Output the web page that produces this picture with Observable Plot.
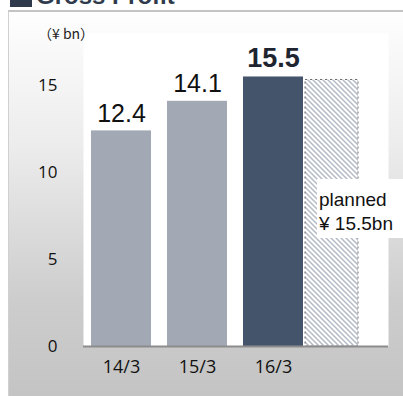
<!DOCTYPE html>
<html>
<head>
<meta charset="utf-8">
<script src="https://cdn.jsdelivr.net/npm/d3@7"></script>
<script src="https://cdn.jsdelivr.net/npm/@observablehq/plot@0.6"></script>
<style>
  html, body { margin: 0; padding: 0; width: 403px; height: 396px; overflow: hidden; background: #fff; }
  #title { position: absolute; left: 10px; top: -18px; height: 26px; display: flex; align-items: flex-end; font-family: "Liberation Sans", Arial, sans-serif; font-weight: bold; font-size: 24px; color: #2f3b4c; line-height: 24px; white-space: nowrap; }
  #title .sq { display: inline-block; width: 22px; height: 22px; background: #2f3b4c; margin-right: 4px; margin-bottom: 1px; }
  #panel { position: absolute; left: 8px; top: 10px; width: 395px; height: 386px; border-top: 2px solid #c4c4c4; border-left: 1px solid #d0d0d0; background: linear-gradient(#fefefe 0%, #ececec 35%, #cdcdcd 75%, #c4c4c4 100%); box-sizing: border-box; }
  #unit { position: absolute; left: 29px; top: 11px; font-family: "Noto Sans CJK JP", sans-serif; font-size: 14px; color: #222; }
  #note { position: absolute; left: 308px; top: 167px; width: 90px; height: 59px; background: #fff; font-family: "Liberation Sans", Arial, sans-serif; font-size: 19px; color: #111; line-height: 24px; padding: 9px 0 0 2px; box-sizing: border-box; white-space: nowrap; }
  #chart { position: absolute; left: 0; top: 0; }
</style>
</head>
<body>
<div id="title"><span class="sq"></span>Gross Profit</div>
<div id="panel">
  <div id="chart"></div>
  <div id="unit">（¥ bn）</div>
  <div id="note">planned<br>¥ 15.5bn</div>
</div>
<script>
const periods = ["14/3", "15/3", "16/3"];
const profits = [12.4, 14.1, 15.5];
const plannedKey = "plan";
const plannedValue = 15.5;
const yTicks = [0, 5, 10, 15];

const actual = periods.map((p, i) => ({period: p, value: profits[i]}));
const past = actual.filter(d => d.period !== "16/3");
const latest = actual.filter(d => d.period === "16/3");
const planned = [{period: plannedKey, value: plannedValue}];

const chart = Plot.plot({
  width: 394,
  height: 385,
  marginLeft: 74,
  marginRight: 15,
  marginTop: 21,
  marginBottom: 51,
  style: {background: "transparent", overflow: "visible"},
  x: {domain: [...periods, plannedKey], paddingInner: 0.21, paddingOuter: 0.11, label: null},
  y: {domain: [0, 18], label: null},
  marks: [
    Plot.frame({fill: "white", stroke: "none"}),
    Plot.barY(past, {x: "period", y: "value", fill: "#a2a9b4"}),
    Plot.barY(latest, {x: "period", y: "value", fill: "#44546a"}),
    Plot.barY(planned, {x: "period", y: "value", fill: "url(#hatch)", stroke: "#6a6a6a", strokeDasharray: "2,3", strokeWidth: 1, dx: -14, insetRight: 7, insetTop: 3}),
    Plot.ruleY([0], {stroke: "#8c8c8c", strokeWidth: 2}),
    Plot.text(past, {x: "period", y: "value", text: d => d.value.toFixed(1), dy: -17,
      fontSize: 25, fill: "#111", fontFamily: "Liberation Sans, Arial, sans-serif"}),
    Plot.text(latest, {x: "period", y: "value", text: d => d.value.toFixed(1), dy: -19,
      fontSize: 27, fontWeight: "bold", fill: "#1e2530", fontFamily: "Liberation Sans, Arial, sans-serif"}),
    Plot.axisX({tickSize: 0, tickPadding: 14, fontSize: 18, fontFamily: "Open Sans, sans-serif", fill: "#111",
      tickFormat: d => d === plannedKey ? "" : d}),
    Plot.axisY({ticks: yTicks, tickSize: 0, tickPadding: 26, fontSize: 17, fontFamily: "Open Sans, sans-serif", fill: "#111"})
  ]
});

const svg = d3.select(chart);
const defs = svg.insert("defs", ":first-child");
const pat = defs.append("pattern").attr("id", "hatch").attr("patternUnits", "userSpaceOnUse")
  .attr("width", 5).attr("height", 5);
pat.append("rect").attr("width", 5).attr("height", 5).attr("fill", "#ffffff");
pat.append("path").attr("d", "M-1,-1 L6,6 M-1,4 L1,6 M4,-1 L6,1")
  .attr("stroke", "#b4bbc6").attr("stroke-width", 1.5);

document.getElementById("chart").appendChild(chart);
</script>
</body>
</html>
